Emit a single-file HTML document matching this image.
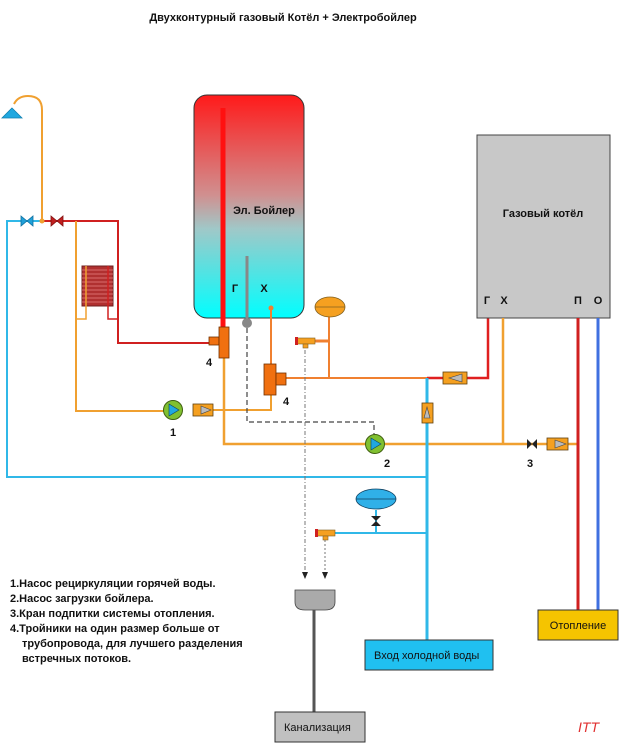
<!DOCTYPE html>
<html><head><meta charset="utf-8"><style>
html,body{margin:0;padding:0;background:#fff;}
svg{display:block;}
text{font-family:"Liberation Sans","DejaVu Sans",sans-serif;}
</style></head><body>
<svg width="628" height="750" viewBox="0 0 628 750" xmlns="http://www.w3.org/2000/svg">
<defs>
<linearGradient id="bg" x1="0" y1="0" x2="0" y2="1">
<stop offset="0" stop-color="#ff1a1a"/><stop offset="0.45" stop-color="#d09090"/><stop offset="0.6" stop-color="#a0c8c8"/><stop offset="1" stop-color="#00ffff"/>
</linearGradient>
</defs>
<text x="283" y="21" font-size="11" font-weight="bold" text-anchor="middle" fill="#111">Двухконтурный газовый Котёл + Электробойлер</text>

<path d="M14,104 Q18,96 28,96 Q42,96 42,110 L42,221" fill="none" stroke="#f0a030" stroke-width="2"/>
<path d="M12,108 L22,118 L2,118 z" fill="#20a8e0" stroke="#1080b0" stroke-width="0.8"/>

<polyline points="27,221 7,221 7,477 427,477" fill="none" stroke="#30b8e8" stroke-width="2"/>
<line x1="27" y1="221" x2="42" y2="221" stroke="#30b8e8" stroke-width="2"/>
<path d="M21,216 L33,226 L33,216 L21,226 z" fill="#20a0d8" stroke="#1070a0" stroke-width="0.8"/>
<polyline points="42,221 118,221 118,343 210,343" fill="none" stroke="#d02020" stroke-width="2"/>
<path d="M51,216 L63,226 L63,216 L51,226 z" fill="#c02020" stroke="#801010" stroke-width="0.8"/>
<circle cx="42" cy="221" r="2.5" fill="#f0a030"/>
<rect x="82" y="266" width="31" height="40" fill="#b03030" stroke="#702020"/>
<g stroke="#e88080" stroke-width="0.8">
<line x1="82" y1="270" x2="113" y2="270"/><line x1="82" y1="274" x2="113" y2="274"/><line x1="82" y1="278" x2="113" y2="278"/><line x1="82" y1="282" x2="113" y2="282"/><line x1="82" y1="286" x2="113" y2="286"/><line x1="82" y1="290" x2="113" y2="290"/><line x1="82" y1="294" x2="113" y2="294"/><line x1="82" y1="298" x2="113" y2="298"/><line x1="82" y1="302" x2="113" y2="302"/>
</g>
<polyline points="86,266 86,319 76,319" fill="none" stroke="#f0a030" stroke-width="1.5"/>
<polyline points="108,266 108,319 118,319" fill="none" stroke="#d02020" stroke-width="1.5"/>
<polyline points="76,221 76,411 173,411" fill="none" stroke="#f0a030" stroke-width="2"/>
<polyline points="213,410 271,410 271,395" fill="none" stroke="#f0a030" stroke-width="2"/>

<rect x="194" y="95" width="110" height="223" rx="13" fill="url(#bg)" stroke="#333" stroke-width="1"/>
<text x="264" y="214" font-size="11" font-weight="bold" text-anchor="middle" fill="#111">Эл. Бойлер</text>
<text x="235" y="292" font-size="11" font-weight="bold" text-anchor="middle" fill="#111">Г</text>
<text x="264" y="292" font-size="11" font-weight="bold" text-anchor="middle" fill="#111">Х</text>
<line x1="223" y1="108" x2="223" y2="330" stroke="#ff1010" stroke-width="5"/>
<line x1="247" y1="256" x2="247" y2="322" stroke="#888" stroke-width="3"/>
<circle cx="247" cy="323" r="5" fill="#888"/>
<circle cx="271" cy="308" r="2.5" fill="#f08030"/>
<line x1="271" y1="308" x2="271" y2="364" stroke="#f08030" stroke-width="2"/>
<polyline points="224,358 224,444 578,444" fill="none" stroke="#f0a030" stroke-width="2.5"/>
<polyline points="247,328 247,422 374,422 374,434" fill="none" stroke="#444" stroke-width="1.2" stroke-dasharray="5,3"/>
<rect x="209" y="337" width="10" height="8" fill="#f07010" stroke="#703000" stroke-width="0.8"/>
<rect x="219" y="327" width="10" height="31" fill="#f07010" stroke="#703000" stroke-width="0.8"/>
<text x="206" y="366" font-size="11" font-weight="bold" fill="#111">4</text>
<line x1="286" y1="378" x2="427" y2="378" stroke="#f08030" stroke-width="2"/>
<rect x="264" y="364" width="12" height="31" fill="#f07010" stroke="#703000" stroke-width="0.8"/>
<rect x="276" y="373" width="10" height="12" fill="#f07010" stroke="#703000" stroke-width="0.8"/>
<text x="283" y="405" font-size="11" font-weight="bold" fill="#111">4</text>
<line x1="329" y1="317" x2="329" y2="378" stroke="#f08030" stroke-width="2"/>
<line x1="315" y1="341" x2="329" y2="341" stroke="#f08030" stroke-width="3"/>
<ellipse cx="330" cy="307" rx="15" ry="10" fill="#f5a020" stroke="#806020" stroke-width="0.8"/>
<line x1="315" y1="307" x2="345" y2="307" stroke="#806020" stroke-width="0.8"/>
<rect x="296" y="338" width="19" height="6" fill="#f5a020" stroke="#806020" stroke-width="0.6"/>
<rect x="295" y="337" width="3" height="8" fill="#d02020"/>
<rect x="303" y="344" width="5" height="4" fill="#f5a020" stroke="#806020" stroke-width="0.6"/>
<line x1="305" y1="350" x2="305" y2="572" stroke="#777" stroke-width="1" stroke-dasharray="4,2,1,2"/>
<path d="M302,572 L308,572 L305,579 z" fill="#222"/>
<line x1="325" y1="540" x2="325" y2="572" stroke="#777" stroke-width="1" stroke-dasharray="2,2"/>
<path d="M322,572 L328,572 L325,579 z" fill="#222"/>
<polyline points="427,378 488,378 488,318" fill="none" stroke="#e02020" stroke-width="2.5"/>
<rect x="443" y="372" width="24" height="12" fill="#f5a020" stroke="#604010" stroke-width="0.8"/>
<path d="M462,374 L449,378 L462,382 z" fill="#bbb" stroke="#444" stroke-width="0.6"/>
<line x1="427" y1="378" x2="427" y2="655" stroke="#30b8e8" stroke-width="3"/>
<rect x="422" y="403" width="11" height="20" fill="#f5a020" stroke="#604010" stroke-width="0.8"/>
<path d="M424,418 L427,407 L430,418 z" fill="#bbb" stroke="#444" stroke-width="0.6"/>
<circle cx="173" cy="410" r="9.5" fill="#80c030" stroke="#406010" stroke-width="1"/>
<path d="M169,404 L179,410 L169,416 z" fill="#20a8e0" stroke="#104060" stroke-width="0.6"/>
<rect x="193" y="404" width="20" height="12" fill="#f5a020" stroke="#604010" stroke-width="0.8"/>
<path d="M201,406 L211,410 L201,414 z" fill="#bbb" stroke="#444" stroke-width="0.6"/>
<text x="173" y="436" font-size="11" font-weight="bold" text-anchor="middle" fill="#111">1</text>
<circle cx="375" cy="444" r="9.5" fill="#80c030" stroke="#406010" stroke-width="1"/>
<path d="M371,438 L381,444 L371,450 z" fill="#20a8e0" stroke="#104060" stroke-width="0.6"/>
<text x="387" y="467" font-size="11" font-weight="bold" text-anchor="middle" fill="#111">2</text>
<rect x="477" y="135" width="133" height="183" fill="#c8c8c8" stroke="#444" stroke-width="1"/>
<text x="543" y="217" font-size="11" font-weight="bold" text-anchor="middle" fill="#111">Газовый котёл</text>
<text x="487" y="304" font-size="11" font-weight="bold" text-anchor="middle" fill="#111">Г</text>
<text x="504" y="304" font-size="11" font-weight="bold" text-anchor="middle" fill="#111">Х</text>
<text x="578" y="304" font-size="11" font-weight="bold" text-anchor="middle" fill="#111">П</text>
<text x="598" y="304" font-size="11" font-weight="bold" text-anchor="middle" fill="#111">О</text>
<line x1="503" y1="318" x2="503" y2="444" stroke="#f0a030" stroke-width="2.5"/>
<line x1="578" y1="318" x2="578" y2="610" stroke="#d02020" stroke-width="3"/>
<line x1="598" y1="318" x2="598" y2="610" stroke="#4070e0" stroke-width="3"/>
<path d="M527,439 L537,449 L537,439 L527,449 z" fill="#222"/>
<text x="530" y="467" font-size="11" font-weight="bold" text-anchor="middle" fill="#111">3</text>
<rect x="547" y="438" width="21" height="12" fill="#f5a020" stroke="#604010" stroke-width="0.8"/>
<path d="M555,440 L566,444 L555,448 z" fill="#bbb" stroke="#444" stroke-width="0.6"/>
<rect x="538" y="610" width="80" height="30" fill="#f5c400" stroke="#333" stroke-width="1"/>
<text x="578" y="629" font-size="11" text-anchor="middle" fill="#111">Отопление</text>
<line x1="335" y1="533" x2="427" y2="533" stroke="#30b8e8" stroke-width="2"/>
<line x1="376" y1="510" x2="376" y2="533" stroke="#30b8e8" stroke-width="2"/>
<ellipse cx="376" cy="499" rx="20" ry="10" fill="#30b0e8" stroke="#104060" stroke-width="0.8"/>
<line x1="356" y1="499" x2="396" y2="499" stroke="#104060" stroke-width="0.8"/>
<path d="M371,516 L381,526 L371,526 L381,516 z" fill="#222"/>
<rect x="316" y="530" width="19" height="6" fill="#f5a020" stroke="#806020" stroke-width="0.6"/>
<rect x="315" y="529" width="3" height="8" fill="#d02020"/>
<rect x="323" y="536" width="5" height="4" fill="#f5a020" stroke="#806020" stroke-width="0.6"/>
<rect x="365" y="640" width="128" height="30" fill="#20c0f0" stroke="#333" stroke-width="1"/>
<text x="374" y="659" font-size="11" fill="#111">Вход холодной воды</text>
<path d="M295,590 L335,590 L335,602 Q335,610 325,610 L305,610 Q295,610 295,602 z" fill="#aaa" stroke="#444" stroke-width="0.8"/>
<line x1="314" y1="610" x2="314" y2="712" stroke="#555" stroke-width="3"/>
<rect x="275" y="712" width="90" height="30" fill="#c0c0c0" stroke="#333" stroke-width="1"/>
<text x="284" y="731" font-size="11" fill="#111">Канализация</text>
<g font-size="11" font-weight="bold" fill="#111">
<text x="10" y="587">1.Насос рециркуляции горячей воды.</text>
<text x="10" y="602">2.Насос загрузки бойлера.</text>
<text x="10" y="617">3.Кран подпитки системы отопления.</text>
<text x="10" y="632">4.Тройники на один размер больше от</text>
<text x="22" y="647">трубопровода,  для лучшего разделения</text>
<text x="22" y="662">встречных потоков.</text>
</g>
<text x="578" y="732" font-size="14" font-style="italic" fill="#e03030">ITT</text>
</svg>
</body></html>
